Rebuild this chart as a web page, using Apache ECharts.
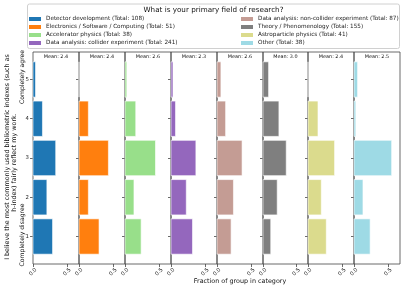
<!DOCTYPE html>
<html>
<head>
<meta charset="utf-8">
<script src="https://cdn.jsdelivr.net/npm/echarts@6/dist/echarts.min.js"></script>
<style>html,body{margin:0;padding:0;background:#fff}#c{width:407px;height:291px}</style>
</head>
<body>
<div id="c"></div>
<script>
// Answer categories (1 = completely disagree ... 5 = completely agree)
const categories = [1, 2, 3, 4, 5];
const groupNames = [
  'Detector development',
  'Electronics / Software / Computing',
  'Accelerator physics',
  'Data analysis: collider experiment',
  'Data analysis: non-collider experiment',
  'Theory / Phenomenology',
  'Astroparticle physics',
  'Other'
];
// responses per category (1..5)
const detectorCounts    = [31, 22, 36, 15, 4];
const electronicsCounts = [15, 7, 22, 7, 0];
const acceleratorCounts = [9, 5, 17, 6, 1];
const colliderCounts    = [76, 54, 88, 16, 7];
const nonColliderCounts = [18, 21, 32, 11, 5];
const theoryCounts      = [18, 33, 54, 37, 13];
const astroCounts       = [11, 8, 16, 6, 0];
const otherCounts       = [9, 5, 21, 1, 2];
const groupCounts = [detectorCounts, electronicsCounts, acceleratorCounts, colliderCounts,
                     nonColliderCounts, theoryCounts, astroCounts, otherCounts];
const colors = ['#1f77b4', '#ff7f0e', '#98df8a', '#9467bd', '#c49c94', '#7f7f7f', '#dbdb8d', '#9edae5'];
const xTickValues = [0, 0.5];
const yTickValues = [1, 2, 3, 4, 5];
const FONT = 'DejaVu Sans';

const totals = groupCounts.map(c => c.reduce((a, b) => a + b, 0));
const labels = groupNames.map((n, i) => n + ' (Total: ' + totals[i] + ')');
const means = groupCounts.map((c, i) => c.reduce((s, v, k) => s + v * categories[k], 0) / totals[i]);

const chart = echarts.init(document.getElementById('c'), null, {renderer: 'canvas'});

const lefts = [];
for (let i = 0; i <= 8; i++) lefts.push(33 + Math.round(i * 45.9));
const TOP = 52, HEIGHT = 212;

const grids = [], xAxes = [], yAxes = [], series = [], graphics = [];
graphics.push({type: 'rect', z: 0, shape: {x: 27.5, y: 4, width: 372, height: 44.5, r: 2},
  style: {fill: 'rgba(255,255,255,0.8)', stroke: '#d0d0d0', lineWidth: 1}});
graphics.push({type: 'text', x: 213.5, y: 10.5, style: {text: 'What is your primary field of research?',
  font: '7.2px "DejaVu Sans"', fill: '#111', textAlign: 'center', textVerticalAlign: 'middle'}});

function renderItem(params, api) {
  const v = api.value(0), c = api.value(1);
  const a = api.coord([0, c + 0.45]);
  const b = api.coord([v, c - 0.45]);
  return {type: 'rect', shape: {x: a[0], y: a[1], width: b[0] - a[0], height: b[1] - a[1]},
    style: {fill: api.visual('color'), stroke: 'rgba(255,255,255,0.6)', lineWidth: 1}};
}

for (let i = 0; i < 8; i++) {
  const w = lefts[i + 1] - lefts[i];
  grids.push({left: lefts[i], top: TOP, width: w, height: HEIGHT, show: true,
    borderColor: '#444', borderWidth: 0.8, backgroundColor: 'transparent', containLabel: false});
  xAxes.push({type: 'value', gridIndex: i, min: 0, max: 0.675,
    axisLine: {show: false}, splitLine: {show: false},
    axisTick: {show: true, length: 3, customValues: xTickValues, lineStyle: {color: '#444', width: 0.8}},
    axisLabel: {customValues: xTickValues, rotate: 45, align: 'center', verticalAlign: 'middle', margin: 8,
      fontSize: 5.4, fontFamily: FONT, color: '#222', formatter: v => v.toFixed(1)}});
  yAxes.push({type: 'value', gridIndex: i, min: 0.3, max: 5.7,
    axisLine: {show: false}, splitLine: {show: false},
    axisTick: {show: true, length: 3, customValues: yTickValues, lineStyle: {color: '#444', width: 0.8}},
    axisLabel: {show: i === 0, customValues: yTickValues, margin: 4, fontSize: 5.4, fontFamily: FONT, color: '#222'}});
  series.push({type: 'custom', name: labels[i], xAxisIndex: i, yAxisIndex: i,
    itemStyle: {color: colors[i]}, renderItem: renderItem, encode: {x: 0, y: 1},
    data: groupCounts[i].map((c, k) => [c / totals[i], categories[k]])});
  graphics.push({type: 'text', x: lefts[i] + w / 2, y: 57, style: {text: 'Mean: ' + means[i].toFixed(1),
    font: '4.9px "DejaVu Sans"', fill: '#111', textAlign: 'center', textVerticalAlign: 'middle'}});
}

graphics.push({type: 'text', x: 7.3, y: 157, rotation: Math.PI / 2, style: {
  text: 'I believe the most commonly used bibliometric indexes (such as',
  font: '6.4px "DejaVu Sans"', fill: '#111', textAlign: 'center', textVerticalAlign: 'middle'}});
graphics.push({type: 'text', x: 14.2, y: 162.5, rotation: Math.PI / 2, style: {
  text: 'h-index) fairly reflect my work.',
  font: '6.4px "DejaVu Sans"', fill: '#111', textAlign: 'center', textVerticalAlign: 'middle'}});
graphics.push({type: 'text', x: 22.6, y: 77, rotation: Math.PI / 2, style: {
  text: 'Completely agree', font: '6.1px "DejaVu Sans"', fill: '#111', textAlign: 'center', textVerticalAlign: 'middle'}});
graphics.push({type: 'text', x: 22.6, y: 235, rotation: Math.PI / 2, style: {
  text: 'Completely disagree', font: '6.1px "DejaVu Sans"', fill: '#111', textAlign: 'center', textVerticalAlign: 'middle'}});
graphics.push({type: 'text', x: 240, y: 281.5, style: {text: 'Fraction of group in category',
  font: '6.4px "DejaVu Sans"', fill: '#111', textAlign: 'center', textVerticalAlign: 'middle'}});

const legendBase = {orient: 'vertical', top: 16, itemWidth: 12, itemHeight: 4, itemGap: 2, padding: 0,
  icon: 'rect', selectedMode: false, z: 5,
  textStyle: {fontSize: 5.7, fontFamily: FONT, color: '#222', lineHeight: 6}};

chart.setOption({
  animation: false,
  backgroundColor: '#fff',
  grid: grids, xAxis: xAxes, yAxis: yAxes, series: series,
  legend: [
    Object.assign({}, legendBase, {left: 29, data: labels.slice(0, 4)}),
    Object.assign({}, legendBase, {left: 241, data: labels.slice(4, 8)})
  ],
  graphic: graphics
});
</script>
</body>
</html>
